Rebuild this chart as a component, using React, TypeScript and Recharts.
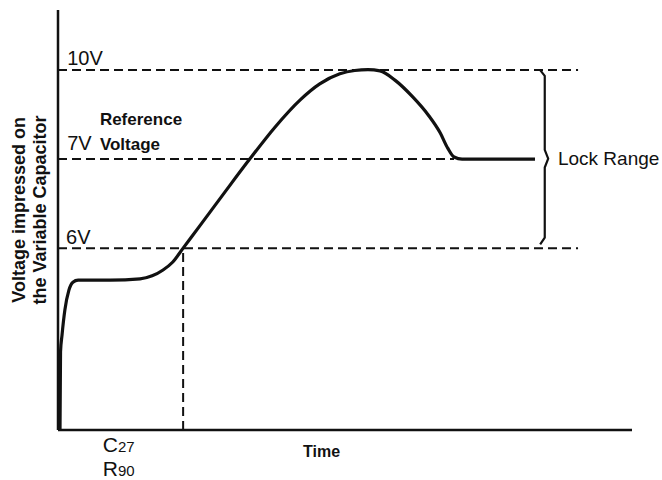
import React from "react";
import { LineChart, Line, XAxis, YAxis, ReferenceLine, ReferenceDot } from "recharts";

// Abstract units: time 0..100 across the axis, level 0..100 up the axis
const curveTime = [0.35, 0.44, 0.7, 1.2, 1.9, 2.6, 3.5, 9.1, 14.3, 16.4, 18.3, 20.0, 21.8, 24.7, 29.1, 33.4, 37.8, 42.2, 45.6, 49.1, 51.7, 54.0, 56.1, 58.7, 61.8, 64.5, 66.6, 67.9, 69.0, 70.4, 83.1];
const curveLevel = [0, 18.6, 22.6, 28.6, 33.3, 35.2, 35.7, 35.7, 36.0, 36.7, 38.1, 40.0, 43.3, 48.6, 56.7, 64.5, 72.1, 78.6, 82.4, 84.8, 85.6, 85.8, 85.5, 83.3, 79.3, 75.0, 70.7, 67.1, 65.0, 64.5, 64.5];

const levelLabels = ["10V", "7V", "6V"];
const levelValues = [85.7, 64.5, 43.3];
const levelEnds = [90.6, 69.0, 90.6];
const crossTime = 21.8;

const braceTime = [84.0, 84.8, 84.8, 85.4, 84.8, 84.8, 84.0];
const braceLevel = [85.7, 84.3, 66.7, 64.6, 62.5, 45.8, 44.2];

const curveData = curveTime.map((t, i) => ({ t, v: curveLevel[i] }));
const braceData = braceTime.map((t, i) => ({ t, v: braceLevel[i] }));

const FONT = "'Liberation Sans', Arial, sans-serif";

const txt = (content: React.ReactNode, size: number, weight: any = "normal", anchor: any = "start") => (p: any) => (
  <text x={p.cx} y={p.cy} fontSize={size} fontWeight={weight} fontFamily={FONT} fill="#111" textAnchor={anchor}>
    {content}
  </text>
);

export default function App() {
  return (
    <div style={{ position: "absolute", left: 0, top: 0, background: "#fff" }}>
      <LineChart width={662} height={480} data={curveData} margin={{ top: 10, right: 30, bottom: 50, left: 58 }}>
        <XAxis dataKey="t" type="number" domain={[0, 100]} allowDataOverflow height={0} tick={false} tickLine={false} axisLine={false} />
        <YAxis type="number" domain={[0, 100]} allowDataOverflow width={0} tick={false} tickLine={false} axisLine={false} />
        <ReferenceLine segment={[{ x: 0, y: 0 }, { x: 100, y: 0 }]} stroke="#111" strokeWidth={2.5} ifOverflow="visible" />
        <ReferenceLine segment={[{ x: 0, y: 0 }, { x: 0, y: 100 }]} stroke="#111" strokeWidth={2.5} ifOverflow="visible" />
        {levelValues.map((v, i) => (
          <ReferenceLine key={levelLabels[i]} segment={[{ x: 0, y: v }, { x: levelEnds[i], y: v }]} stroke="#111" strokeWidth={2} strokeDasharray="9 5" ifOverflow="visible" />
        ))}
        <ReferenceLine segment={[{ x: crossTime, y: 0 }, { x: crossTime, y: levelValues[2] }]} stroke="#111" strokeWidth={2} strokeDasharray="9 5" />
        <Line data={curveData} dataKey="v" type="monotone" stroke="#111" strokeWidth={3.2} dot={false} isAnimationActive={false} strokeLinejoin="round" />
        <Line data={braceData} dataKey="v" type="linear" stroke="#111" strokeWidth={2.2} dot={false} isAnimationActive={false} strokeLinejoin="round" />
        <ReferenceDot x={1.6} y={87.0} r={0} ifOverflow="visible" shape={txt(levelLabels[0], 20)} />
        <ReferenceDot x={1.6} y={66.7} r={0} ifOverflow="visible" shape={txt(levelLabels[1], 20)} />
        <ReferenceDot x={1.4} y={44.3} r={0} ifOverflow="visible" shape={txt(levelLabels[2], 20)} />
        <ReferenceDot x={7.3} y={72.6} r={0} ifOverflow="visible" shape={txt("Reference", 17, "bold")} />
        <ReferenceDot x={7.3} y={66.7} r={0} ifOverflow="visible" shape={txt("Voltage", 17, "bold")} />
        <ReferenceDot x={87.1} y={63.2} r={0} ifOverflow="visible" shape={txt("Lock Range", 19)} />
        <ReferenceDot x={42.7} y={-6.4} r={0} ifOverflow="visible" shape={txt("Time", 16, "bold")} />
        <ReferenceDot x={7.8} y={-5.2} r={0} ifOverflow="visible" shape={txt(<><tspan fontSize={21}>C</tspan><tspan fontSize={15}>27</tspan></>, 21)} />
        <ReferenceDot x={7.8} y={-11.0} r={0} ifOverflow="visible" shape={txt(<><tspan fontSize={21}>R</tspan><tspan fontSize={15}>90</tspan></>, 21)} />
        <ReferenceDot
          x={-5.75}
          y={52.4}
          r={0}
          ifOverflow="visible"
          shape={(p: any) => (
            <text transform={`translate(${p.cx},${p.cy}) rotate(-90)`} fontSize={18} fontWeight="bold" fontFamily={FONT} fill="#111" textAnchor="middle">
              <tspan x={0} y={0}>Voltage impressed on</tspan>
              <tspan x={0} y={21}>the Variable Capacitor</tspan>
            </text>
          )}
        />
      </LineChart>
    </div>
  );
}
